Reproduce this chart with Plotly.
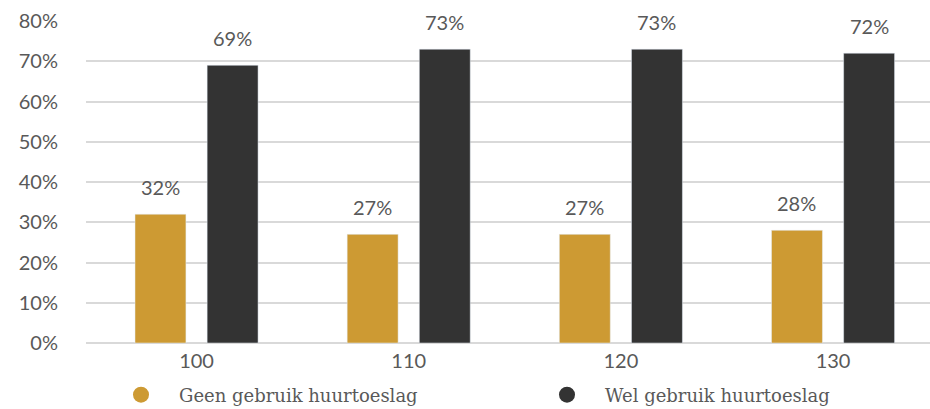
import plotly.graph_objects as go

categories = ["100", "110", "120", "130"]
geen = [32, 27, 27, 28]
wel = [69, 73, 73, 72]
series_names = ["Geen gebruik huurtoeslag", "Wel gebruik huurtoeslag"]
colors = ["#CD9A33", "#333333"]
yticks = [0, 10, 20, 30, 40, 50, 60, 70, 80]
ytick_labels = [f"{v}%" for v in yticks]

TXT = "#595959"
TICKFONT = dict(family="Lato, sans-serif", size=20, color=TXT)
LEGFONT = dict(family="DejaVu Serif, serif", size=18, color=TXT)

fig = go.Figure()
legend_ids = ["legend", "legend2"]
for name, vals, col, lg in zip(series_names, [geen, wel], colors, legend_ids):
    fig.add_trace(go.Bar(x=categories, y=vals, name=name, marker_color=col,
                         showlegend=False, offsetgroup=name))
    # legend entry with circle symbol
    fig.add_trace(go.Scatter(x=[None], y=[None], mode="markers", name=name,
                             legend=lg,
                             marker=dict(color=col, size=19, symbol="circle")))

# value labels
slot = 0.34
for i, vals in enumerate([geen, wel]):
    off = (-0.5 + i) * slot
    for j, v in enumerate(vals):
        fig.add_annotation(x=j + off, y=v, text=f"{v}%", showarrow=False,
                           yanchor="middle", yshift=27, font=TICKFONT)

leg_common = dict(orientation="h", yref="container", y=1 - 395 / 409, yanchor="middle",
                  xref="container", xanchor="left", itemwidth=66,
                  font=LEGFONT, bgcolor="rgba(0,0,0,0)")

fig.update_layout(
    width=930, height=409,
    margin=dict(l=86, r=0, t=21, b=66, autoexpand=False),
    paper_bgcolor="white", plot_bgcolor="white",
    barmode="group", bargap=0.32, bargroupgap=0.294,
    xaxis=dict(type="category", range=[-0.521, 3.457], showgrid=False,
               showline=False, ticks="", tickfont=TICKFONT, ticklabelstandoff=4),
    yaxis=dict(range=[0, 80], tickvals=yticks, ticktext=ytick_labels,
               showgrid=True, gridcolor="#d9d9d9", gridwidth=2,
               zeroline=True, zerolinecolor="#d9d9d9", zerolinewidth=2,
               showline=False, ticks="", tickfont=TICKFONT, ticklabelstandoff=27),
    legend=dict(x=103 / 930, **leg_common),
    legend2=dict(x=529 / 930, **leg_common),
    font=dict(family="Lato, sans-serif", color=TXT),
)

fig.write_html("out.html")
